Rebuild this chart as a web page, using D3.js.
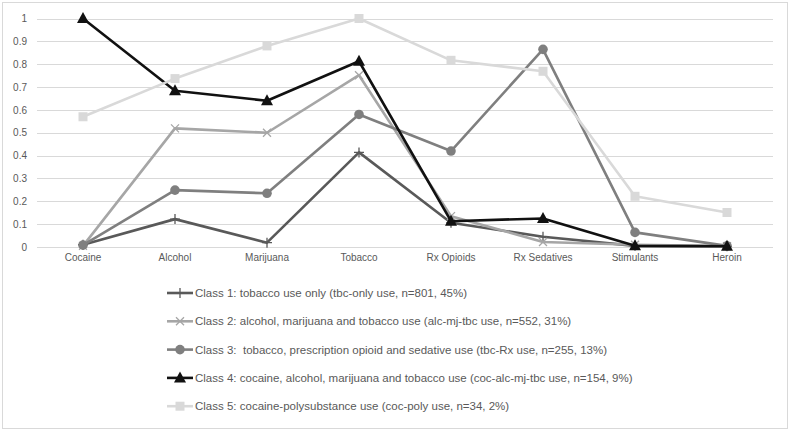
<!DOCTYPE html>
<html><head><meta charset="utf-8">
<script src="https://cdn.jsdelivr.net/npm/d3@7/dist/d3.min.js"></script>
<style>body{margin:0;background:#fff;}svg{display:block;font-family:"Liberation Sans",Arial,sans-serif;}</style>
</head><body><svg id="c" width="791" height="432"></svg>
<script>
const categories = ["Cocaine","Alcohol","Marijuana","Tobacco","Rx Opioids","Rx Sedatives","Stimulants","Heroin"];
const yTicks = [0,0.1,0.2,0.3,0.4,0.5,0.6,0.7,0.8,0.9,1];
const seriesNames = [
  "Class 1: tobacco use only (tbc-only use, n=801, 45%)",
  "Class 2: alcohol, marijuana and tobacco use (alc-mj-tbc use, n=552, 31%)",
  "Class 3:  tobacco, prescription opioid and sedative use (tbc-Rx use, n=255, 13%)",
  "Class 4: cocaine, alcohol, marijuana and tobacco use (coc-alc-mj-tbc use, n=154, 9%)",
  "Class 5: cocaine-polysubstance use (coc-poly use, n=34, 2%)"
];
const class1 = [0.01,0.122,0.019,0.414,0.106,0.045,0.005,0.003];
const class2 = [0.005,0.519,0.50,0.752,0.135,0.022,0.01,0.004];
const class3 = [0.008,0.249,0.235,0.58,0.42,0.865,0.064,0.005];
const class4 = [1.0,0.684,0.64,0.813,0.113,0.125,0.005,0.003];
const class5 = [0.57,0.737,0.88,1.0,0.817,0.769,0.222,0.151];

const series = [class1,class2,class3,class4,class5];
const colors = ["#595959","#a6a6a6","#7f7f7f","#111111","#d9d9d9"];
const markers = ["plus","x","circle","triangle","square"];

const svg = d3.select("#c");
svg.append("rect").attr("x",2.5).attr("y",2.5).attr("width",785).attr("height",426)
  .attr("fill","#fff").attr("stroke","#d9d9d9").attr("stroke-width",1);

const x = d3.scaleBand().domain(categories).range([37,773]);
const y = d3.scaleLinear().domain([0,1]).range([247,18.5]);
const cx = c => x(c) + x.bandwidth()/2;

// grid
svg.append("g").selectAll("line").data(yTicks).join("line")
  .attr("x1",37).attr("x2",773).attr("y1",d=>Math.round(y(d))+0.5).attr("y2",d=>Math.round(y(d))+0.5)
  .attr("stroke","#d9d9d9").attr("stroke-width",1);

// y axis labels
const yAxis = d3.axisLeft(y).tickValues(yTicks).tickSize(0).tickPadding(0).tickFormat(d=>d3.format("~g")(d));
const gy = svg.append("g").attr("transform","translate(27,0)").call(yAxis);
gy.select(".domain").remove();
gy.selectAll("text").attr("fill","#595959").style("font-size","10px").style("font-family","Liberation Sans, Arial, sans-serif");

// x axis labels
const xAxis = d3.axisBottom(x).tickSize(0).tickPadding(0);
const gx = svg.append("g").attr("transform","translate(0,254)").call(xAxis);
gx.select(".domain").remove();
gx.selectAll("text").attr("fill","#595959").style("font-size","10px").style("font-family","Liberation Sans, Arial, sans-serif");

function drawMarker(g, type, color, px, py){
  if(type==="plus"){
    g.append("path").attr("d",`M${px-5},${py}H${px+5}M${px},${py-5}V${py+5}`).attr("stroke",color).attr("stroke-width",1.3).attr("fill","none");
  } else if(type==="x"){
    g.append("path").attr("d",`M${px-4},${py-4}L${px+4},${py+4}M${px-4},${py+4}L${px+4},${py-4}`).attr("stroke",color).attr("stroke-width",1.3).attr("fill","none");
  } else if(type==="circle"){
    g.append("circle").attr("cx",px).attr("cy",py).attr("r",4.8).attr("fill",color);
  } else if(type==="triangle"){
    g.append("path").attr("d",`M${px},${py-6.5}L${px+6},${py+4.5}L${px-6},${py+4.5}Z`).attr("fill",color);
  } else if(type==="square"){
    g.append("rect").attr("x",px-4.5).attr("y",py-4.5).attr("width",9).attr("height",9).attr("fill",color);
  }
}

const line = d3.line().x((d,i)=>cx(categories[i])).y(d=>y(d));
series.forEach((s,k)=>{
  const g = svg.append("g");
  g.append("path").datum(s).attr("d",line).attr("fill","none").attr("stroke",colors[k])
    .attr("stroke-width",2.6).attr("stroke-linejoin","round").attr("stroke-linecap","round");
  s.forEach((v,i)=>drawMarker(g, markers[k], colors[k], cx(categories[i]), y(v)));
});

// legend
const lg = svg.append("g");
seriesNames.forEach((name,k)=>{
  const ly = 293 + k*28.3;
  const g = lg.append("g");
  g.append("line").attr("x1",167).attr("x2",193).attr("y1",ly).attr("y2",ly).attr("stroke",colors[k]).attr("stroke-width",2.6);
  drawMarker(g, markers[k], colors[k], 180, ly);
  g.append("text").attr("x",195).attr("y",ly).attr("dy","0.35em").attr("fill","#595959")
    .style("font-size","11.5px").style("white-space","pre").text(name);
});
</script></body></html>
